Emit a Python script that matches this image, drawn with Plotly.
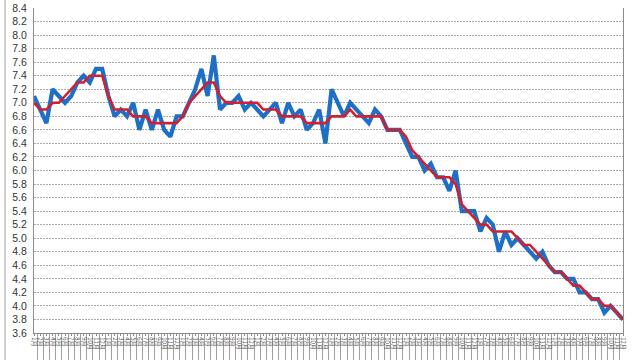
import plotly.graph_objects as go

# Monthly series (96 months)
actual = [7.1, 6.9, 6.7, 7.2, 7.1, 7.0, 7.1, 7.3, 7.4, 7.3, 7.5, 7.5,
          7.1, 6.8, 6.9, 6.8, 7.0, 6.6, 6.9, 6.6, 6.9, 6.6, 6.5, 6.8,
          6.8, 7.0, 7.2, 7.5, 7.1, 7.7, 6.9, 7.0, 7.0, 7.1, 6.9, 7.0,
          6.9, 6.8, 6.9, 7.0, 6.7, 7.0, 6.8, 6.9, 6.6, 6.7, 6.9, 6.4,
          7.2, 7.0, 6.8, 7.0, 6.9, 6.8, 6.7, 6.9, 6.8, 6.6, 6.6, 6.6,
          6.4, 6.2, 6.2, 6.0, 6.1, 5.9, 5.9, 5.7, 6.0, 5.4, 5.4, 5.4,
          5.1, 5.3, 5.2, 4.8, 5.1, 4.9, 5.0, 4.9, 4.8, 4.7, 4.8, 4.6,
          4.5, 4.5, 4.4, 4.4, 4.2, 4.2, 4.1, 4.1, 3.9, 4.0, 3.9, 3.8]

trend = [7.0, 6.9, 6.9, 7.0, 7.0, 7.1, 7.2, 7.3, 7.3, 7.4, 7.4, 7.4,
         7.1, 6.9, 6.9, 6.9, 6.8, 6.8, 6.8, 6.7, 6.7, 6.7, 6.7, 6.7,
         6.8, 7.0, 7.1, 7.2, 7.3, 7.3, 7.1, 7.0, 7.0, 7.0, 7.0, 7.0,
         7.0, 6.9, 6.9, 6.9, 6.8, 6.8, 6.8, 6.8, 6.7, 6.7, 6.7, 6.7,
         6.8, 6.8, 6.8, 6.9, 6.8, 6.8, 6.8, 6.8, 6.8, 6.6, 6.6, 6.6,
         6.5, 6.3, 6.2, 6.1, 6.0, 5.9, 5.9, 5.9, 5.8, 5.5, 5.4, 5.3,
         5.2, 5.2, 5.1, 5.1, 5.1, 5.1, 5.0, 4.9, 4.9, 4.8, 4.7, 4.6,
         4.5, 4.5, 4.4, 4.3, 4.3, 4.2, 4.1, 4.1, 4.0, 4.0, 3.9, 3.8]

months = [f"{(k % 12) + 1}月" for k in range(len(actual))]
xs = list(range(len(actual)))

y_ticks = [round(3.6 + 0.2 * k, 1) for k in range(25)]

fig = go.Figure()
fig.add_trace(go.Scatter(x=xs, y=actual, mode="lines",
                         line=dict(color="#1E6FC6", width=4.2),
                         hoverinfo="skip", showlegend=False))
fig.add_trace(go.Scatter(x=xs, y=trend, mode="lines",
                         line=dict(color="#D2202E", width=2.6),
                         hoverinfo="skip", showlegend=False))

fig.update_layout(
    width=640, height=360,
    margin=dict(l=34, r=17, t=8, b=27, autoexpand=False),
    paper_bgcolor="white", plot_bgcolor="white",
    showlegend=False,
    font=dict(family="Liberation Sans, Arial, sans-serif", color="#333333"),
    xaxis=dict(
        range=[0, len(actual) - 1],
        automargin=False,
        tickmode="array", tickvals=xs, ticktext=months,
        tickangle=90,
        tickfont=dict(size=6, family="Noto Sans CJK JP", color="#555555"),
        ticks="outside", ticklen=2, tickcolor="#888888",
        showgrid=False, zeroline=False,
        showline=True, linecolor="#888888", linewidth=1,
        minor=dict(tickmode="linear", tick0=0.5, dtick=1, ticks="outside",
                   ticklen=30, tickcolor="#a0a0a0", tickwidth=1, showgrid=False),
        fixedrange=True,
    ),
    yaxis=dict(
        range=[3.6, 8.4],
        automargin=False,
        tickmode="array", tickvals=y_ticks,
        ticktext=[f"{v:.1f}" for v in y_ticks],
        tickfont=dict(size=10.5, color="#333333"),
        ticklabelstandoff=4,
        ticks="", showgrid=True, gridcolor="#aaaaaa", gridwidth=1,
        griddash="2px,1px",
        zeroline=False,
        showline=True, mirror=True, linecolor="#8c8c8c", linewidth=1,
        fixedrange=True,
    ),
    shapes=[dict(type="line", xref="paper", yref="paper",
                 x0=-0.0492, x1=-0.0492, y0=-0.2, y1=1.2,
                 line=dict(color="#a0a0a0", width=1))],
)

fig.write_html(
    "out.html",
    config={"displayModeBar": False},
    post_script="document.body.style.margin='0';document.body.style.overflow='hidden';",
)
